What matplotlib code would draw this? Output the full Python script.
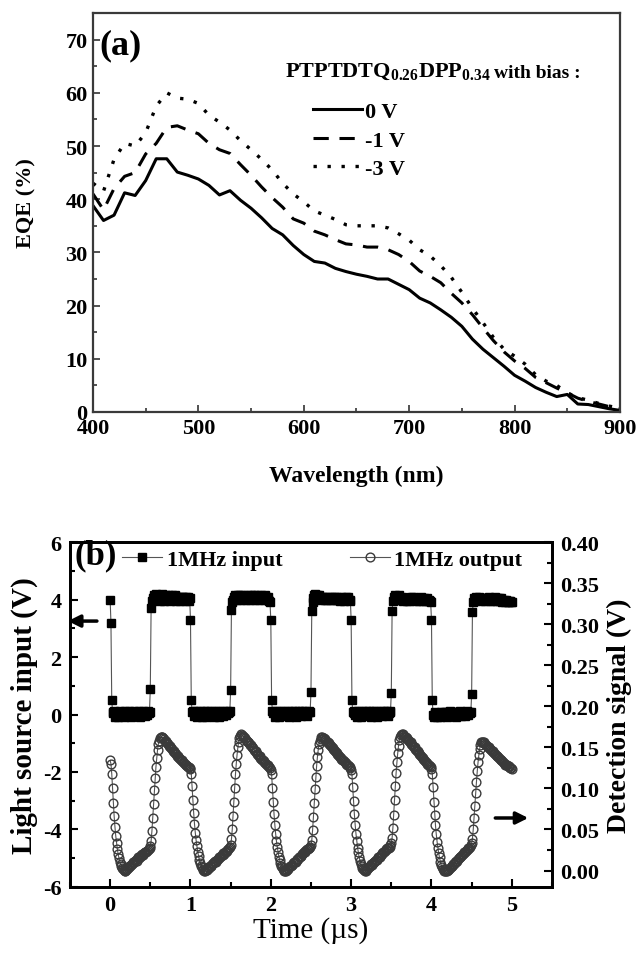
import numpy as np
import matplotlib
matplotlib.use('Agg')
import matplotlib.pyplot as plt
from matplotlib.ticker import MultipleLocator

plt.rcParams['font.family'] = ['Liberation Serif', 'DejaVu Serif']
plt.rcParams['font.weight'] = 'bold'
plt.rcParams['mathtext.fontset'] = 'custom'
plt.rcParams['mathtext.rm'] = 'Liberation Serif:bold'
plt.rcParams['mathtext.bf'] = 'Liberation Serif:bold'
plt.rcParams['axes.unicode_minus'] = False

# ---- panel (a): EQE spectra ----
wl = [400, 410, 420, 430, 440, 450, 460, 470, 480, 490,
      500, 510, 520, 530, 540, 550, 560, 570, 580, 590,
      600, 610, 620, 630, 640, 650, 660, 670, 680, 690,
      700, 710, 720, 730, 740, 750, 760, 770, 780, 790,
      800, 810, 820, 830, 840, 850, 860, 870, 880, 890, 900]

eqe_0v = [38.8, 36.0, 37.0, 41.2, 40.7, 43.5, 47.6, 47.6, 45.1, 44.5,
          43.8, 42.6, 40.8, 41.6, 39.8, 38.3, 36.5, 34.5, 33.3, 31.3,
          29.6, 28.3, 28.0, 27.0, 26.4, 25.9, 25.5, 25.0, 25.0, 24.0,
          23.0, 21.4, 20.5, 19.2, 17.8, 16.1, 13.7, 11.8, 10.2, 8.6,
          6.9, 5.8, 4.6, 3.7, 2.9, 3.3, 1.5, 1.4, 1.0, 0.6, 0.3]

eqe_1v = [41.0, 38.0, 42.0, 44.3, 45.0, 48.5, 50.5, 53.5, 53.8, 53.0,
          52.3, 50.5, 49.3, 48.6, 46.5, 44.5, 42.3, 40.3, 38.5, 36.3,
          35.5, 34.0, 33.3, 32.4, 31.6, 31.4, 31.0, 31.0, 30.5, 29.6,
          28.3, 26.5, 25.5, 24.3, 22.3, 20.5, 18.3, 15.8, 13.4, 11.3,
          9.6, 8.2, 6.5, 5.5, 4.5, 3.6, 2.6, 2.0, 1.5, 1.0, 0.6]

eqe_3v = [43.0, 41.5, 47.5, 50.5, 50.0, 52.5, 57.5, 60.0, 59.0, 58.8,
          58.0, 55.8, 54.5, 53.0, 51.0, 49.3, 47.5, 45.5, 43.0, 41.0,
          39.5, 37.8, 37.0, 36.2, 35.2, 35.0, 35.0, 35.0, 34.6, 33.5,
          32.3, 30.5, 29.3, 27.5, 25.3, 22.5, 19.5, 16.8, 14.0, 11.8,
          10.5, 9.0, 7.0, 5.8, 5.0, 3.6, 2.7, 2.2, 1.6, 1.1, 0.7]

bias_labels = ['0 V', '-1 V', '-3 V']

# ---- panel (b): 1 MHz response, sampled every 10 ns ----
in_1 = [4.00, 3.20, 0.50, 0.10, 0.05, 0.12, -0.08, 0.00, 0.10, 0.06,
        -0.10, 0.08, 0.12, 0.02, -0.05, 0.10, 0.05, -0.10, 0.08, 0.12,
        0.00, 0.10, -0.06, 0.05, 0.12, 0.08, -0.10, 0.02, 0.10, 0.06,
        0.12, -0.04, 0.05, 0.10, 0.00, 0.08, 0.12, -0.08, 0.05, 0.10,
        0.02, 0.12, 0.06, -0.05, 0.10, 0.08, 0.00, 0.12, 0.05, 0.10,
        0.90, 3.70, 3.95, 4.05, 4.10, 4.15, 4.05, 4.20, 4.10, 4.00,
        4.15, 4.05, 3.95, 4.10, 4.20, 4.05, 4.10, 3.95, 4.15, 4.05,
        4.10, 4.00, 4.15, 4.05, 3.95, 4.10, 4.05, 4.15, 4.00, 4.10,
        4.05, 4.15, 3.95, 4.10, 4.05, 4.00, 4.10, 3.95, 4.05, 4.10,
        4.00, 4.10, 4.05, 3.95, 4.10, 4.05, 4.00, 4.10, 3.95, 4.05]
in_2 = [3.30, 0.50, 0.08, 0.12, -0.05, 0.10, 0.02, 0.12, -0.10, 0.06,
        0.10, 0.00, 0.12, 0.05, -0.08, 0.10, 0.08, 0.12, 0.00, -0.10,
        0.06, 0.12, 0.10, -0.05, 0.02, 0.12, 0.08, 0.00, 0.10, -0.08,
        0.05, 0.12, 0.10, 0.00, 0.06, -0.10, 0.12, 0.08, 0.02, 0.10,
        0.12, -0.05, 0.05, 0.10, 0.00, 0.12, 0.08, 0.06, 0.10, 0.12,
        0.85, 3.65, 3.90, 4.00, 4.10, 4.05, 4.15, 4.10, 4.00, 4.15,
        4.05, 4.10, 4.15, 4.00, 4.10, 4.05, 4.15, 4.10, 4.05, 4.00,
        4.10, 4.15, 4.05, 4.10, 4.00, 4.15, 4.05, 4.10, 4.05, 4.15,
        4.00, 4.10, 4.05, 4.15, 4.10, 4.00, 4.05, 4.10, 4.15, 4.05,
        4.10, 4.00, 4.05, 4.15, 4.10, 4.05, 4.00, 4.10, 3.95, 3.90]
in_3 = [3.30, 0.50, 0.12, 0.05, 0.10, -0.08, 0.12, 0.00, 0.08, 0.10,
        -0.10, 0.05, 0.12, 0.08, 0.00, 0.10, -0.06, 0.12, 0.05, 0.10,
        0.00, 0.12, 0.08, -0.10, 0.06, 0.10, 0.12, 0.00, 0.08, 0.05,
        0.12, -0.08, 0.10, 0.06, 0.00, 0.12, 0.10, 0.05, -0.06, 0.12,
        0.08, 0.00, 0.10, 0.12, 0.05, -0.05, 0.10, 0.08, 0.12, 0.10,
        0.80, 3.60, 3.90, 4.05, 4.15, 4.20, 4.10, 4.15, 4.05, 4.10,
        4.15, 4.05, 4.10, 4.00, 4.05, 4.10, 4.05, 4.00, 4.10, 4.05,
        4.00, 4.05, 4.10, 4.05, 4.00, 4.05, 4.10, 4.00, 4.05, 4.10,
        4.05, 4.00, 4.05, 4.10, 4.00, 4.05, 3.95, 4.05, 4.10, 4.00,
        4.05, 3.95, 4.05, 4.10, 4.00, 4.05, 4.10, 4.00, 3.95, 4.00]
in_4 = [3.30, 0.50, 0.10, 0.05, 0.12, 0.00, 0.10, -0.08, 0.06, 0.12,
        0.10, 0.00, -0.10, 0.08, 0.12, 0.05, 0.10, 0.00, 0.12, -0.06,
        0.08, 0.10, 0.12, 0.00, 0.05, -0.10, 0.10, 0.12, 0.06, 0.00,
        0.10, 0.12, -0.08, 0.05, 0.10, 0.08, 0.00, 0.12, 0.10, -0.05,
        0.06, 0.12, 0.10, 0.00, 0.08, 0.12, -0.06, 0.05, 0.10, 0.12,
        0.75, 3.60, 3.95, 4.10, 4.15, 4.05, 4.10, 4.00, 4.05, 4.10,
        4.15, 4.05, 4.00, 4.10, 4.05, 3.95, 4.00, 4.05, 4.00, 3.95,
        4.05, 4.00, 3.95, 4.05, 4.10, 4.00, 4.05, 4.10, 4.05, 4.00,
        4.05, 3.95, 4.00, 4.05, 3.95, 4.00, 4.05, 4.10, 4.00, 3.95,
        4.00, 4.05, 4.00, 3.95, 4.00, 4.05, 3.95, 4.00, 3.95, 3.90]
in_5 = [3.30, 0.50, 0.00, -0.10, 0.05, 0.10, 0.00, -0.08, 0.06, 0.00,
        -0.10, 0.05, 0.08, 0.00, -0.06, 0.10, 0.05, 0.00, 0.10, -0.10,
        0.06, 0.00, 0.08, 0.12, 0.00, -0.05, 0.10, 0.05, 0.00, 0.08,
        -0.08, 0.05, 0.10, 0.00, 0.06, 0.12, 0.00, -0.06, 0.08, 0.05,
        0.10, 0.00, -0.05, 0.08, 0.12, 0.05, 0.00, 0.10, 0.06, 0.08,
        0.70, 3.55, 3.90, 4.05, 4.00, 4.10, 4.05, 4.00, 4.05, 4.10,
        4.05, 4.00, 3.95, 4.05, 4.00, 4.05, 4.00, 3.95, 4.00, 4.05,
        4.00, 4.10, 4.05, 3.95, 4.00, 4.05, 4.00, 3.95, 4.05, 4.10,
        4.00, 4.05, 3.95, 4.00, 4.05, 3.95, 4.00, 4.05, 3.90, 3.95,
        4.00, 3.95, 3.90, 4.00, 3.95, 3.90, 3.95, 3.90, 3.95, 3.90]
in_end = [3.90]

out_1 = [0.134, 0.130, 0.118, 0.100, 0.082, 0.066, 0.053, 0.042, 0.034, 0.026,
         0.020, 0.015, 0.011, 0.008, 0.005, 0.003, 0.002, 0.001, 0.000, 0.000,
         0.001, 0.002, 0.003, 0.004, 0.006, 0.005, 0.007, 0.008, 0.010, 0.009,
         0.011, 0.012, 0.013, 0.012, 0.014, 0.016, 0.015, 0.017, 0.018, 0.019,
         0.020, 0.019, 0.021, 0.022, 0.023, 0.022, 0.024, 0.025, 0.026, 0.028,
         0.030, 0.036, 0.048, 0.064, 0.081, 0.098, 0.113, 0.126, 0.137, 0.147,
         0.154, 0.158, 0.161, 0.162, 0.163, 0.162, 0.161, 0.160, 0.158, 0.158,
         0.156, 0.155, 0.154, 0.152, 0.152, 0.150, 0.149, 0.148, 0.146, 0.146,
         0.144, 0.143, 0.142, 0.140, 0.140, 0.138, 0.137, 0.136, 0.135, 0.134,
         0.133, 0.132, 0.131, 0.130, 0.129, 0.128, 0.127, 0.126, 0.126, 0.125]
out_2 = [0.124, 0.118, 0.103, 0.086, 0.070, 0.057, 0.046, 0.037, 0.030, 0.023,
         0.018, 0.013, 0.009, 0.006, 0.004, 0.002, 0.001, 0.000, 0.000, 0.001,
         0.001, 0.002, 0.004, 0.003, 0.005, 0.006, 0.006, 0.008, 0.009, 0.010,
         0.010, 0.012, 0.011, 0.013, 0.014, 0.015, 0.016, 0.016, 0.018, 0.019,
         0.019, 0.021, 0.020, 0.022, 0.023, 0.024, 0.025, 0.026, 0.027, 0.029,
         0.031, 0.038, 0.050, 0.066, 0.084, 0.101, 0.117, 0.130, 0.141, 0.150,
         0.157, 0.161, 0.164, 0.166, 0.165, 0.164, 0.163, 0.162, 0.161, 0.159,
         0.158, 0.157, 0.156, 0.155, 0.153, 0.153, 0.151, 0.150, 0.149, 0.147,
         0.146, 0.145, 0.144, 0.142, 0.141, 0.140, 0.139, 0.137, 0.136, 0.135,
         0.134, 0.133, 0.132, 0.131, 0.130, 0.129, 0.128, 0.127, 0.126, 0.125]
out_3 = [0.123, 0.117, 0.101, 0.084, 0.069, 0.056, 0.045, 0.036, 0.029, 0.023,
         0.017, 0.013, 0.009, 0.006, 0.004, 0.002, 0.001, 0.000, 0.000, 0.000,
         0.001, 0.002, 0.003, 0.004, 0.005, 0.006, 0.007, 0.007, 0.009, 0.010,
         0.011, 0.011, 0.013, 0.014, 0.014, 0.016, 0.017, 0.018, 0.018, 0.020,
         0.021, 0.022, 0.022, 0.024, 0.025, 0.026, 0.026, 0.027, 0.028, 0.029,
         0.031, 0.037, 0.049, 0.065, 0.082, 0.099, 0.114, 0.127, 0.138, 0.147,
         0.154, 0.158, 0.160, 0.162, 0.162, 0.161, 0.161, 0.160, 0.159, 0.158,
         0.157, 0.156, 0.155, 0.154, 0.153, 0.152, 0.150, 0.149, 0.148, 0.147,
         0.146, 0.144, 0.143, 0.142, 0.141, 0.140, 0.138, 0.137, 0.136, 0.135,
         0.134, 0.133, 0.132, 0.131, 0.130, 0.129, 0.128, 0.127, 0.126, 0.125]
out_4 = [0.123, 0.117, 0.102, 0.085, 0.069, 0.056, 0.045, 0.036, 0.028, 0.022,
         0.016, 0.012, 0.008, 0.005, 0.003, 0.002, 0.001, 0.000, 0.000, 0.001,
         0.002, 0.003, 0.004, 0.005, 0.006, 0.008, 0.007, 0.009, 0.010, 0.011,
         0.012, 0.013, 0.013, 0.015, 0.016, 0.017, 0.017, 0.019, 0.020, 0.021,
         0.022, 0.022, 0.024, 0.025, 0.026, 0.027, 0.027, 0.028, 0.029, 0.031,
         0.033, 0.040, 0.052, 0.068, 0.086, 0.103, 0.119, 0.132, 0.143, 0.152,
         0.159, 0.163, 0.165, 0.166, 0.166, 0.165, 0.164, 0.163, 0.162, 0.161,
         0.160, 0.159, 0.158, 0.157, 0.156, 0.154, 0.153, 0.152, 0.151, 0.150,
         0.148, 0.147, 0.146, 0.145, 0.143, 0.142, 0.141, 0.139, 0.138, 0.137,
         0.136, 0.134, 0.133, 0.132, 0.131, 0.130, 0.129, 0.128, 0.127, 0.126]
out_5 = [0.124, 0.118, 0.102, 0.084, 0.068, 0.055, 0.044, 0.035, 0.028, 0.021,
         0.016, 0.011, 0.007, 0.004, 0.002, 0.001, 0.000, 0.000, 0.000, 0.000,
         0.001, 0.001, 0.002, 0.003, 0.004, 0.005, 0.006, 0.008, 0.008, 0.010,
         0.011, 0.012, 0.012, 0.014, 0.015, 0.016, 0.017, 0.018, 0.019, 0.020,
         0.021, 0.022, 0.023, 0.024, 0.025, 0.026, 0.027, 0.028, 0.029, 0.031,
         0.033, 0.039, 0.050, 0.064, 0.079, 0.094, 0.108, 0.121, 0.132, 0.141,
         0.148, 0.153, 0.156, 0.157, 0.157, 0.156, 0.155, 0.154, 0.153, 0.152,
         0.151, 0.150, 0.149, 0.148, 0.147, 0.146, 0.145, 0.144, 0.143, 0.142,
         0.141, 0.140, 0.139, 0.138, 0.137, 0.136, 0.135, 0.134, 0.133, 0.132,
         0.131, 0.130, 0.129, 0.129, 0.128, 0.127, 0.127, 0.126, 0.125, 0.125]
out_end = [0.124]

input_v = in_1 + in_2 + in_3 + in_4 + in_5 + in_end
output_v = out_1 + out_2 + out_3 + out_4 + out_5 + out_end
time_us = np.linspace(0, 5, len(input_v))

fig = plt.figure(figsize=(6.39, 9.54), dpi=100)

# ---------- (a) ----------
ax = fig.add_axes([0.1455, 0.5671, 0.8247, 0.4182])
ax.plot(wl, eqe_0v, color='black', lw=2.2, ls='-', label=bias_labels[0])
ax.plot(wl, eqe_1v, color='black', lw=2.2, ls=(0, (5, 3.5)), label=bias_labels[1])
ax.plot(wl, eqe_3v, color='black', lw=2.4, ls=(0, (1, 3.2)), label=bias_labels[2])
ax.set_xlim(400, 900)
ax.set_ylim(0, 75)
ax.set_xticks([400, 500, 600, 700, 800, 900])
ax.set_yticks(range(0, 71, 10))
ax.xaxis.set_minor_locator(MultipleLocator(50))
ax.yaxis.set_minor_locator(MultipleLocator(5))
ax.tick_params(which='both', direction='in', top=False, right=False,
               labelsize=16, width=1.2, color='#333333', pad=4)
ax.tick_params(which='major', length=5)
ax.tick_params(which='minor', length=3)
for s in ax.spines.values():
    s.set_linewidth(1.6)
    s.set_color('#3a3a3a')
ax.set_xlabel('Wavelength (nm)', fontsize=17, fontweight='bold')
ax.xaxis.set_label_coords(0.5, -0.132)
ax.set_ylabel('EQE (%)', fontsize=16, fontweight='bold')
ax.yaxis.set_label_coords(-0.108, 0.525)
ax.text(0.012, 0.92, '(a)', transform=ax.transAxes, fontsize=26,
        fontweight='bold', ha='left', va='center')
t1 = ax.text(0.364, 0.84, r'PTPTDTQ$_{0.26}$DPP$_{0.34}$',
             transform=ax.transAxes, fontsize=16, fontweight='bold',
             ha='left', va='baseline')
fig.canvas.draw()
bb = t1.get_window_extent()
x_end = ax.transAxes.inverted().transform((bb.x1, bb.y0))[0]
ax.text(x_end + 0.006, 0.84, 'with bias :', transform=ax.transAxes,
        fontsize=14, fontweight='bold', ha='left', va='baseline')
ax.legend(loc='upper left', bbox_to_anchor=(0.4, 0.8), frameon=False,
          handlelength=2.2, handletextpad=0.15, labelspacing=0.35,
          borderaxespad=0, prop={'size': 16, 'weight': 'bold'})

# ---------- (b) ----------
bx = fig.add_axes([0.1095, 0.0692, 0.7543, 0.3616])
bx2 = bx.twinx()
l_in, = bx.plot(time_us, input_v, color='#555555', lw=0.8, marker='s',
                ms=5.2, mfc='black', mec='black', label='1MHz input')
l_out, = bx2.plot(time_us, output_v, color='#555555', lw=0.8, marker='o',
                  ms=6.3, mfc='none', mec='#3a3a3a', mew=1.0,
                  label='1MHz output')
bx.set_xlim(-0.5, 5.5)
bx.set_ylim(-6, 6)
bx2.set_ylim(-0.02, 0.40)
bx.set_xticks(range(0, 6))
bx.set_yticks(range(-6, 7, 2))
bx2.set_yticks(np.arange(0, 0.401, 0.05))
bx2.set_yticklabels(['%.2f' % v for v in np.arange(0, 0.401, 0.05)])
bx.xaxis.set_minor_locator(MultipleLocator(0.5))
bx.yaxis.set_minor_locator(MultipleLocator(1))
bx2.yaxis.set_minor_locator(MultipleLocator(0.025))
bx.tick_params(which='both', direction='in', top=False, right=False,
               labelsize=16, width=1.5, pad=6)
bx2.tick_params(which='both', direction='in', labelsize=16, width=1.5, pad=6)
for a in (bx, bx2):
    a.tick_params(which='major', length=6)
    a.tick_params(which='minor', length=3.5)
    for s in a.spines.values():
        s.set_linewidth(2.0)
bx.set_xlabel('Time (\u00b5s)', fontsize=21, fontweight='normal')
bx.xaxis.set_label_coords(0.5, -0.085)
bx.set_ylabel('Light source input (V)', fontsize=21, fontweight='bold')
bx.yaxis.set_label_coords(-0.066, 0.5)
bx2.set_ylabel('Detection signal (V)', fontsize=20, fontweight='bold',
               rotation=90)
bx2.yaxis.set_label_coords(1.114, 0.5)
bx.text(0.01, 0.963, '(b)', transform=bx.transAxes, fontsize=25,
        fontweight='bold', ha='left', va='center')
bx.legend(handles=[l_in], loc='center left',
          bbox_to_anchor=(0.09, 0.948), frameon=False,
          handlelength=1.8, handletextpad=0.2, borderaxespad=0,
          prop={'size': 16, 'weight': 'bold'})
bx2.legend(handles=[l_out], loc='center left', bbox_to_anchor=(0.562, 0.948),
           frameon=False, handlelength=1.8, handletextpad=0.2,
           borderaxespad=0, prop={'size': 16, 'weight': 'bold'})
bx.annotate('', xy=(-0.56, 3.25), xytext=(-0.13, 3.25),
            arrowprops=dict(arrowstyle='-|>', lw=2.5, color='black',
                            mutation_scale=18), annotation_clip=False)
bx.annotate('', xy=(5.24, -3.6), xytext=(4.76, -3.6),
            arrowprops=dict(arrowstyle='-|>', lw=2.5, color='black',
                            mutation_scale=18), annotation_clip=False)

fig.savefig('out.png', dpi=100)
